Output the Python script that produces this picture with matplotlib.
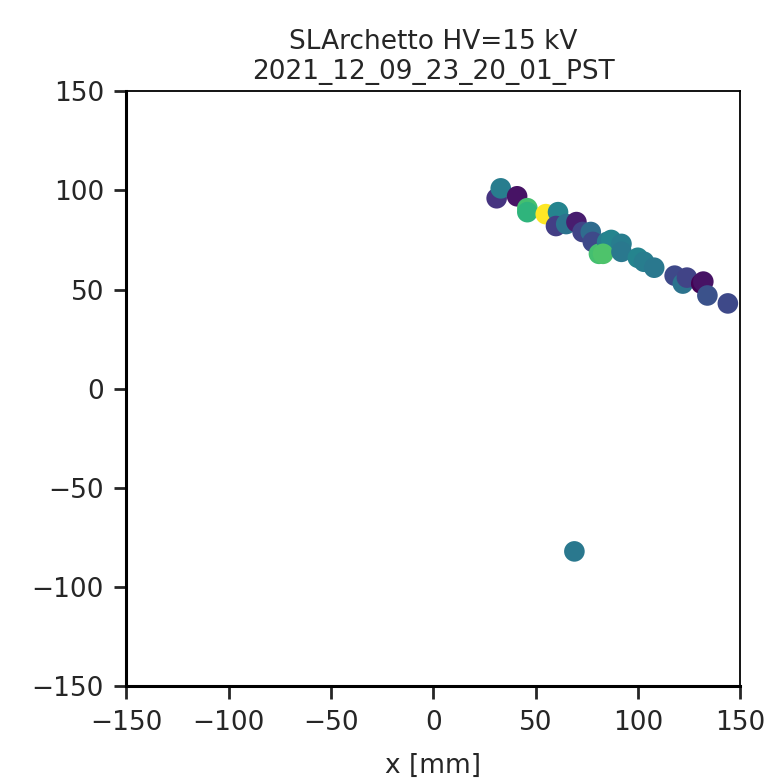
import numpy as np
import matplotlib
matplotlib.use('Agg')
import matplotlib.pyplot as plt

# hit positions [mm] and colour value
x_mm = [31, 33, 41, 46, 46, 55, 61, 60, 65, 70, 73, 77, 78, 81, 85, 87, 92, 83, 92,
        100, 103, 108, 118, 122, 124, 131, 132, 134, 144, 69]
y_mm = [96, 101, 97, 91, 89, 88, 89, 82, 83, 84, 79, 79, 74, 68, 74, 75, 73, 68, 69,
        66, 64, 61, 57, 53, 56, 53, 54, 47, 43, -82]
val = [0.15, 0.42, 0.05, 0.7, 0.65, 1.0, 0.45, 0.18, 0.38, 0.08, 0.2, 0.35, 0.22, 0.7, 0.42,
       0.45, 0.42, 0.72, 0.4, 0.45, 0.42, 0.4, 0.22, 0.38, 0.2, 0.0, 0.05, 0.25, 0.22, 0.4]
ticks = [-150, -100, -50, 0, 50, 100, 150]

fig = plt.figure(figsize=(7.75, 7.79), dpi=100)
ax = fig.add_axes([0.163, 0.119, 0.792, 0.764])

ax.scatter(x_mm, y_mm, c=val, cmap='viridis', vmin=0, vmax=1, s=220, linewidths=0)

ax.set_xlim(-150, 150)
ax.set_ylim(-150, 150)
ax.set_xticks(ticks)
ax.set_yticks(ticks)
ax.tick_params(labelsize=19, length=9, width=2, colors='#262626')
ax.tick_params(axis='x', pad=8)
ax.tick_params(axis='y', pad=7)
for s in ['left', 'bottom']:
    ax.spines[s].set_linewidth(2.2)
for s in ['top', 'right']:
    ax.spines[s].set_linewidth(1.3)
ax.set_xlabel('x [mm]', fontsize=19, color='#262626', labelpad=12)
ax.set_title('SLArchetto HV=15 kV\n2021_12_09_23_20_01_PST', fontsize=19, color='#262626',
             linespacing=1.2, pad=9)

fig.savefig('out.png', dpi=100)
